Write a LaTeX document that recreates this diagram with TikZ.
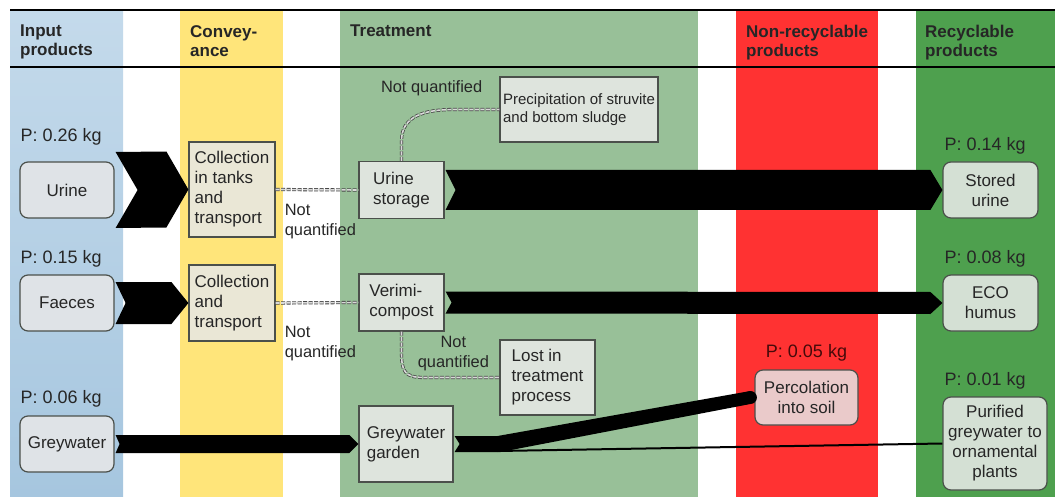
\documentclass[tikz,border=0pt]{standalone}
\usepackage{fontspec}
\setmainfont{Liberation Sans}
\usetikzlibrary{calc,positioning}

\definecolor{inbluetop}{RGB}{196,218,235}
\definecolor{inbluebot}{RGB}{166,198,223}
\definecolor{convyellow}{RGB}{255,229,122}
\definecolor{treatgreen}{RGB}{152,192,152}
\definecolor{nonred}{RGB}{255,50,50}
\definecolor{recgreen}{RGB}{78,160,78}
\definecolor{infill}{RGB}{223,227,231}
\definecolor{convfill}{RGB}{234,231,214}
\definecolor{treatfill}{RGB}{222,228,221}
\definecolor{recfill}{RGB}{212,224,212}
\definecolor{percfill}{RGB}{234,202,202}
\definecolor{boxline}{RGB}{75,80,75}
\definecolor{percP}{RGB}{70,10,10}

\tikzset{
  inbox/.style={draw=boxline,line width=1.2pt,fill=infill,rounded corners=8pt,align=center,inner sep=3pt},
  stepbox/.style={draw=boxline,line width=1.2pt,fill=treatfill,align=left,inner sep=3pt},
  outbox/.style={inbox,fill=recfill},
  plabel/.style={font=\fontsize{18}{20}\selectfont,inner sep=0pt},
  head/.style={font=\fontsize{17}{19}\selectfont\bfseries,align=left,anchor=north west,inner sep=0pt},
  nqtext/.style={font=\fontsize{16.4}{20}\selectfont,inner sep=0pt},
  nq/.style={draw=black!72,line width=0.8pt,double=white!85!black,double distance=1.6pt,dash pattern=on 4pt off 1.5pt},
}

\begin{document}
\begin{tikzpicture}[x=1pt,y=-1pt,every node/.style={font=\fontsize{17}{20}\selectfont,text=black!85}]
\useasboundingbox (0,0) rectangle (1055,497);

% columns
\fill[top color=inbluetop,bottom color=inbluebot] (10,10) rectangle (123,497);
\fill[convyellow] (180,10) rectangle (283,497);
\fill[treatgreen] (340,10) rectangle (698,497);
\fill[nonred] (736,10) rectangle (878,497);
\fill[recgreen] (916,10) rectangle (1055,497);
\draw[line width=1.5pt] (10,10) -- (1055,10);
\draw[line width=1.5pt] (10,67) -- (1055,67);

\node[head] (hInput) at (20,25) {Input\\products};
\node[head] (hConv) at (190,25) {Convey-\\ance};
\node[head] (hTreat) at (350,25) {Treatment};
\node[head] (hNonrec) at (746,25) {Non-recyclable\\products};
\node[head] (hRec) at (925,25) {Recyclable\\products};

% input products
\node[inbox,minimum width=94pt,minimum height=56pt] (urine) at (67,190) {Urine};
\node[inbox,minimum width=94pt,minimum height=56pt] (faeces) at (67,303) {Faeces};
\node[inbox,minimum width=94pt,minimum height=56pt] (grey) at (67,444) {Greywater};
\node[plabel,anchor=south west] (urineP) at ($(urine.north west)+(1,-16)$) {P: 0.26 kg};
\node[plabel,anchor=south west] (faecesP) at ($(faeces.north west)+(1,-6.5)$) {P: 0.15 kg};
\node[plabel,anchor=south west] (greyP) at ($(grey.north west)+(1,-8)$) {P: 0.06 kg};

% conveyance
\node[stepbox,fill=convfill,minimum width=86pt,minimum height=95pt] (coll1) at (232,189.5) {Collection\\in tanks\\and\\transport};
\node[stepbox,fill=convfill,minimum width=86pt,minimum height=76pt] (coll2) at (232,303) {Collection\\and\\transport};

% treatment
\node[stepbox,minimum width=85pt,minimum height=57pt] (ustor) at (401.5,190) {Urine\\storage};
\node[stepbox,minimum width=85pt,minimum height=57pt] (verm) at (401.5,302.5) {Verimi-\\compost};
\node[stepbox,minimum width=94pt,minimum height=76pt] (garden) at (406,444) {Greywater\\garden};
\node[stepbox,minimum width=158pt,minimum height=65pt,font=\fontsize{15}{18.5}\selectfont] (prec) at (579,109.5) {Precipitation of struvite\\and bottom sludge};
\node[stepbox,minimum width=95pt,minimum height=75pt] (lost) at (547.5,377.5) {Lost in\\treatment\\process};

% products
\node[inbox,fill=percfill,minimum width=103pt,minimum height=55pt] (perc) at (806.5,397.5) {Percolation\\into soil};
\node[outbox,minimum width=95pt,minimum height=56pt] (stored) at (990.5,190) {Stored\\urine};
\node[outbox,minimum width=95pt,minimum height=56pt] (eco) at (990.5,303) {ECO\\humus};
\node[outbox,minimum width=104pt,minimum height=93pt] (puri) at (995,443.5) {Purified\\greywater to\\ornamental\\plants};
\node[plabel,anchor=south,text=percP] (percPl) at ($(perc.north)+(0,-8)$) {P: 0.05 kg};
\node[plabel,anchor=south west] (storedP) at ($(stored.north west)+(2,-7)$) {P: 0.14 kg};
\node[plabel,anchor=south west] (ecoP) at ($(eco.north west)+(2,-6.5)$) {P: 0.08 kg};
\node[plabel,anchor=south west] (puriP) at ($(puri.north west)+(2,-7)$) {P: 0.01 kg};

% not quantified flows
\draw[nq] (coll1.east) -- (ustor.west);
\draw[nq] (coll2.east) -- (verm.west);
\draw[nq] (ustor.north) -- ++(0,-20) .. controls +(0,-25) and +(-30,0) .. ($(prec.west)+(-45,0)$) -- (prec.west);
\draw[nq] (verm.south) -- ++(0,20) .. controls +(0,20) and +(-20,0) .. ($(lost.west)+(-75,0)$) -- (lost.west);
\node[nqtext,align=left,anchor=north west] (nq1) at ($(coll1.east)+(9,14.5)$) {Not\\quantified};
\node[nqtext,align=left,anchor=north west] (nq2) at ($(coll2.east)+(9,23)$) {Not\\quantified};
\node[nqtext,anchor=east] (nq3) at ($(prec.west)+(-17,-21.5)$) {Not quantified};
\node[nqtext,align=center,anchor=north] (nq4) at ($(lost.west)+(-46,-41.5)$) {Not\\quantified};

% phosphorus flows
\fill ($(urine.east)+(1,-38)$) -- ($(coll1.west)+(-22,-38)$) -- (coll1.west) -- ($(coll1.west)+(-22,38)$) -- ($(urine.east)+(1,38)$) -- ($(urine.east)+(23,0)$) -- cycle;
\fill ($(faeces.east)+(1,-21)$) -- ($(coll2.west)+(-17,-21)$) -- (coll2.west) -- ($(coll2.west)+(-17,21)$) -- ($(faeces.east)+(1,21)$) -- ($(faeces.east)+(11,0)$) -- cycle;
\fill ($(grey.east)+(1,-9)$) -- ($(garden.west)+(-9,-9)$) -- (garden.west) -- ($(garden.west)+(-9,9)$) -- ($(grey.east)+(1,9)$) -- ($(grey.east)+(5,0)$) -- cycle;
\fill ($(ustor.east)+(1,-20)$) -- ($(stored.west)+(-12,-20)$) -- (stored.west) -- ($(stored.west)+(-12,20)$) -- ($(ustor.east)+(1,20)$) -- ($(ustor.east)+(11,0)$) -- cycle;
\fill ($(verm.east)+(1,-11)$) -- ($(eco.west)+(-12,-11)$) -- (eco.west) -- ($(eco.west)+(-12,11)$) -- ($(verm.east)+(1,11)$) -- ($(verm.east)+(7,0)$) -- cycle;
\fill ($(garden.east)+(1,-8)$) -- ($(garden.east)+(44,-8)$) -- ($(perc.west)+(-4,-6.5)$) -- ($(perc.west)+(-4,6.5)$) -- ($(garden.east)+(47,8)$) -- ($(garden.east)+(1,8)$) -- ($(garden.east)+(6,0)$) -- cycle;
\fill ($(perc.west)+(-4,0)$) circle (6.5);
\draw[line width=2pt] ($(garden.east)+(44,7)$) -- (puri.west);
\end{tikzpicture}
\end{document}
